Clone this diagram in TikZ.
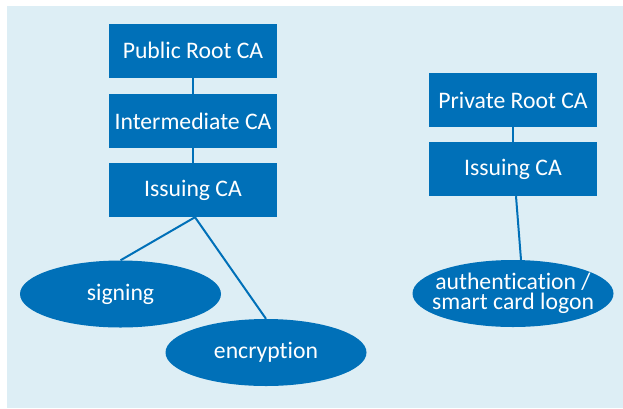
\documentclass[tikz,border=0pt]{standalone}
\usepackage{fontspec}
\setmainfont[Ligatures=NoCommon]{Carlito}
\usetikzlibrary{shapes.geometric}
\definecolor{pkiblue}{HTML}{0070B8}
\definecolor{pkibg}{HTML}{DDEEF5}
\begin{document}
\begin{tikzpicture}[x=1pt,y=-1pt,
  ca/.style={rectangle, fill=pkiblue, text=white, minimum width=168pt,
    minimum height=54pt, inner sep=0pt, font=\fontsize{23.7}{26}\selectfont},
  usage/.style={ellipse, fill=pkiblue, text=white, minimum width=201pt,
    minimum height=67pt, inner xsep=-40pt, inner ysep=-20pt, align=center,
    font=\fontsize{23.7}{20}\selectfont},
  link/.style={draw=pkiblue, line width=2pt}]
  \useasboundingbox (0,0) rectangle (623,408);
  \fill[pkibg] (7,6) rectangle (623,408);

  % public hierarchy
  \node[ca] (pub)   at (193,50.5) {Public Root CA};
  \node[ca] (inter) at (193,121)  {Intermediate CA};
  \node[ca] (iss)   at (193,190)  {Issuing CA};
  \node[usage] (sign) at (120.5,294) {signing};
  \node[usage] (enc)  at (266,352.5) {encryption};

  % private hierarchy
  \node[ca] (priv) at (513,100) {Private Root CA};
  \node[ca] (iss2) at (513,169) {Issuing CA};
  \node[usage] (auth) at (513,293.5) {authentication /\\smart card logon};

  \path[link] (pub) -- (inter);
  \path[link] (inter) -- (iss);
  \path[link] ([xshift=2pt]iss.south) -- (sign.north);
  \path[link] ([xshift=2pt]iss.south) -- (enc.north);
  \path[link] (priv) -- (iss2);
  \path[link] ([xshift=3pt]iss2.south) -- ([xshift=8pt]auth.north);
\end{tikzpicture}
\end{document}
